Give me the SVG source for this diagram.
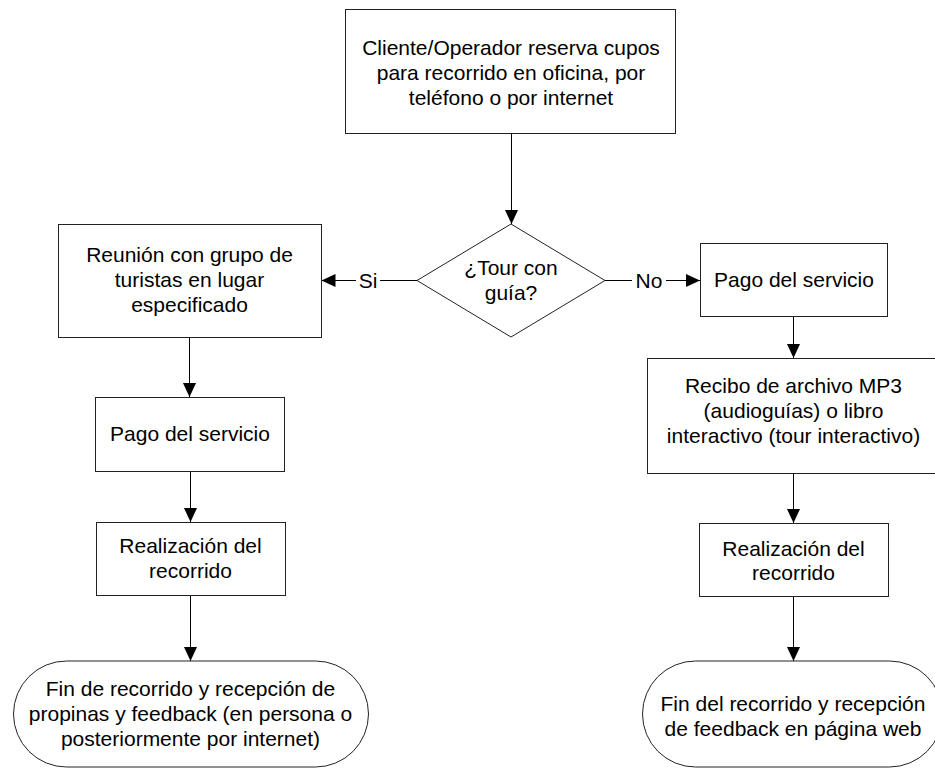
<svg xmlns="http://www.w3.org/2000/svg" width="935" height="768" viewBox="0 0 935 768">
<style>
.box{fill:#fff;stroke:#222;stroke-width:1}
.t{font-family:"Liberation Sans",Arial,sans-serif;font-size:21px;fill:#000;text-anchor:middle}
.c{fill:none;stroke:#000;stroke-width:1;marker-end:url(#ah)}
.lbg{fill:#fff;stroke:none}
</style>
<defs>
<marker id="ah" markerUnits="userSpaceOnUse" markerWidth="14" markerHeight="13" refX="14" refY="6.5" orient="auto">
<path d="M0,0 L14,6.5 L0,13 z" fill="#000"/>
</marker>
</defs>
<rect width="935" height="768" fill="#fff"/>
<g id="connectors">
<path class="c" d="M511.5,133.5 V224"/>
<path class="c" d="M417,280.5 H321.5"/>
<path class="c" d="M605,280.5 H700"/>
<path class="c" d="M189.5,337.5 V397"/>
<path class="c" d="M190.5,471 V522"/>
<path class="c" d="M190.5,595 V661"/>
<path class="c" d="M793.5,316 V358"/>
<path class="c" d="M793.5,473 V523"/>
<path class="c" d="M793.5,597 V661"/>
<rect class="lbg" x="356" y="270" width="24" height="22"/>
<text class="t" x="368" y="288">Si</text>
<rect class="lbg" x="632" y="270" width="34" height="22"/>
<text class="t" x="649" y="288">No</text>
</g>
<g id="n_reserva">
<rect class="box" x="345.5" y="9.5" width="330" height="124"/>
<text class="t" x="511" y="55">Cliente/Operador reserva cupos</text>
<text class="t" x="511" y="80">para recorrido en oficina, por</text>
<text class="t" x="511" y="105">teléfono o por internet</text>
</g>
<g id="n_decision">
<polygon class="box" points="511,224 605,280.5 511,337 417,280.5"/>
<text class="t" x="511" y="275">¿Tour con</text>
<text class="t" x="511" y="300">guía?</text>
</g>
<g id="n_reunion">
<rect class="box" x="58.5" y="224.5" width="263" height="113"/>
<text class="t" x="189.5" y="262">Reunión con grupo de</text>
<text class="t" x="189.5" y="287">turistas en lugar</text>
<text class="t" x="189.5" y="312">especificado</text>
</g>
<g id="n_pago_izq">
<rect class="box" x="95.5" y="397.5" width="189" height="74"/>
<text class="t" x="190" y="441">Pago del servicio</text>
</g>
<g id="n_realiz_izq">
<rect class="box" x="96.5" y="522.5" width="189" height="73"/>
<text class="t" x="190.5" y="553">Realización del</text>
<text class="t" x="190.5" y="578">recorrido</text>
</g>
<g id="n_fin_izq">
<rect class="box" x="13.5" y="661" width="355" height="106" rx="53" ry="53"/>
<text class="t" x="190.5" y="696">Fin de recorrido y recepción de</text>
<text class="t" x="190.5" y="721">propinas y feedback (en persona o</text>
<text class="t" x="190.5" y="746">posteriormente por internet)</text>
</g>
<g id="n_pago_der">
<rect class="box" x="700.5" y="243.5" width="187" height="73"/>
<text class="t" x="794" y="287">Pago del servicio</text>
</g>
<g id="n_recibo">
<rect class="box" x="647.5" y="358.5" width="293" height="115"/>
<text class="t" x="793.5" y="393">Recibo de archivo MP3</text>
<text class="t" x="793.5" y="418">(audioguías) o libro</text>
<text class="t" x="793.5" y="443">interactivo (tour interactivo)</text>
</g>
<g id="n_realiz_der">
<rect class="box" x="699.5" y="523.5" width="189" height="73"/>
<text class="t" x="793.5" y="556">Realización del</text>
<text class="t" x="793.5" y="580">recorrido</text>
</g>
<g id="n_fin_der">
<rect class="box" x="642.5" y="661" width="300" height="106" rx="53" ry="53"/>
<text class="t" x="793" y="711">Fin del recorrido y recepción</text>
<text class="t" x="793" y="736">de feedback en página web</text>
</g>
</svg>
